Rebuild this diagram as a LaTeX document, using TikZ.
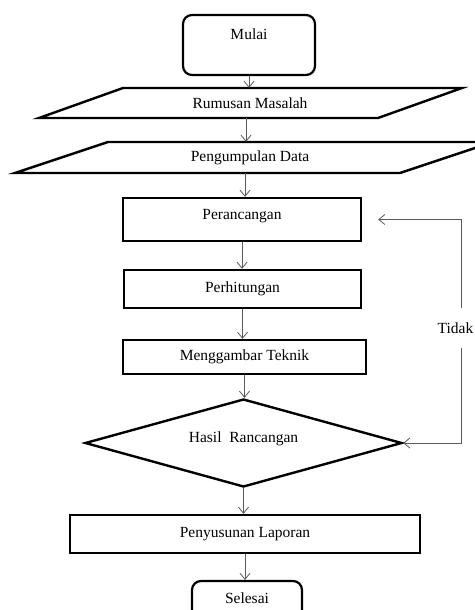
\documentclass[tikz,border=0pt]{standalone}
\usepackage{fontspec}
\setmainfont{Liberation Serif}
\usetikzlibrary{shapes.geometric,arrows.meta}

\tikzset{
  terminal/.style={draw, line width=2.2pt, rounded corners=9pt, inner sep=0pt, text height=10pt, text depth=#1},
  proses/.style={draw, line width=2.4pt, inner sep=0pt},
  datanya/.style={inner sep=0pt, minimum height=30pt},
  keputusan/.style={draw, diamond, shape aspect=3.6, line width=2.4pt, inner sep=0pt},
  panah/.style={draw=black!65, line width=0.8pt, -{Straight Barb[length=6pt,width=10pt]}},
}

\begin{document}
\begin{tikzpicture}[x=1pt, y=-1pt, font=\fontsize{15.5}{18}\selectfont]
\useasboundingbox (0,0) rectangle (474,610);
\node[terminal=20pt, minimum width=132pt, minimum height=60pt] (mulai) at (249,45) {Mulai};
\node[datanya] (rumusan) at (250,103) {Rumusan Masalah};
\draw[line width=2.4pt] (39,118) -- (378,118) -- (462,88) -- (123,88) -- cycle;
\node[datanya, minimum height=31pt] (pengumpulan) at (250,157.5) {Pengumpulan Data};
\draw[line width=2.4pt] (15,173) -- (400,173) -- (493,142) -- (108,142) -- cycle;
\node[proses, minimum width=238pt, minimum height=43pt, text height=10pt, text depth=11pt] (perancangan) at (242,219.5) {Perancangan};
\node[proses, minimum width=237pt, minimum height=38pt] (perhitungan) at (242.5,289) {Perhitungan};
\node[proses, minimum width=243pt, minimum height=34pt] (menggambar) at (244.5,357) {Menggambar Teknik};
\node[keputusan, minimum width=317pt, minimum height=88pt, text height=10pt, text depth=12pt] (hasil) at (243.5,443) {Hasil\ \ Rancangan};
\node[proses, minimum width=350pt, minimum height=38pt] (penyusunan) at (245,534) {Penyusunan Laporan};
\node[terminal=26pt, minimum width=110pt, minimum height=60pt] (selesai) at (247,611) {Selesai};
\node[inner sep=0pt, minimum height=40pt] (tidak) at (455.5,328) {Tidak};

\draw[panah] (mulai.south) -- (mulai.south |- rumusan.north);
\draw[panah] ([xshift=-4pt]rumusan.south) -- ([xshift=-4pt]rumusan.south |- pengumpulan.north);
\draw[panah] ([xshift=-5pt]pengumpulan.south) -- ([xshift=-5pt]pengumpulan.south |- perancangan.north);
\draw[panah] (perancangan.south) -- (perancangan.south |- perhitungan.north);
\draw[panah] (perhitungan.south) -- (perhitungan.south |- menggambar.north);
\draw[panah] (menggambar.south) -- (menggambar.south |- hasil.north);
\draw[panah] (hasil.south) -- (hasil.south |- penyusunan.north);
\draw[panah] (penyusunan.south) -- (penyusunan.south |- selesai.north);
\draw[panah, shorten >=16pt] ([xshift=5.5pt]tidak.north) |- (perancangan.east);
\draw[panah] ([xshift=5.5pt]tidak.south) |- (hasil.east);
\end{tikzpicture}
\end{document}
